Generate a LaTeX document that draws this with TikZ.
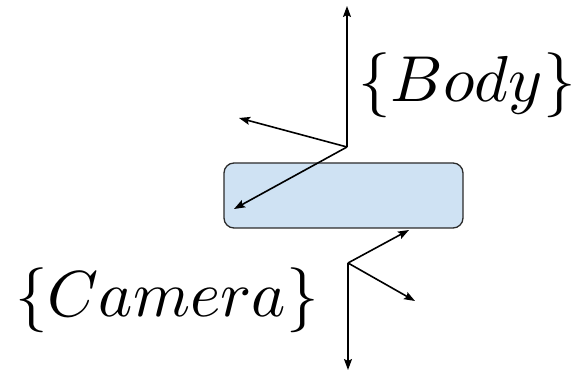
\documentclass[tikz,border=0pt]{standalone}
\usepackage{graphicx}
\usetikzlibrary{arrows.meta}
\definecolor{boxfill}{HTML}{CFE2F3}
\definecolor{boxline}{HTML}{2B2B2B}
\begin{document}
\begin{tikzpicture}[x=1pt,y=1pt,
  axis/.style={line width=1.6pt,-{Stealth[length=11pt,width=8pt,inset=2pt]}},
  lbl/.style={anchor=base,inner sep=0pt}]
\useasboundingbox (0,0) rectangle (579,374);
% box
\node[draw=boxline,fill=boxfill,line width=1.3pt,rounded corners=10pt,
  minimum width=239pt,minimum height=65pt,inner sep=0pt] (box) at (343.5,178.5) {};
% body frame
\coordinate (bo) at (347,227);
\coordinate (bz) at (347,368);
\coordinate (bx) at (239,256);
\coordinate (by) at (234,165);
\draw[axis] (bo) -- (bz);
\draw[axis] (bo) -- (bx);
\draw[axis] (bo) -- (by);
% camera frame
\coordinate (co) at (348,111);
\coordinate (cx) at (409,144);
\coordinate (cy) at (415,73);
\coordinate (cz) at (348,4);
\draw[axis] (co) -- (cx);
\draw[axis] (co) -- (cy);
\draw[axis] (co) -- (cz);
% labels
\node[lbl] (body) at (467,272) {\scalebox{6.5}{$\{Body\}$}};
\node[lbl] (camera) at (167,57) {\scalebox{6.5}{$\{Camera\}$}};
\end{tikzpicture}
\end{document}
